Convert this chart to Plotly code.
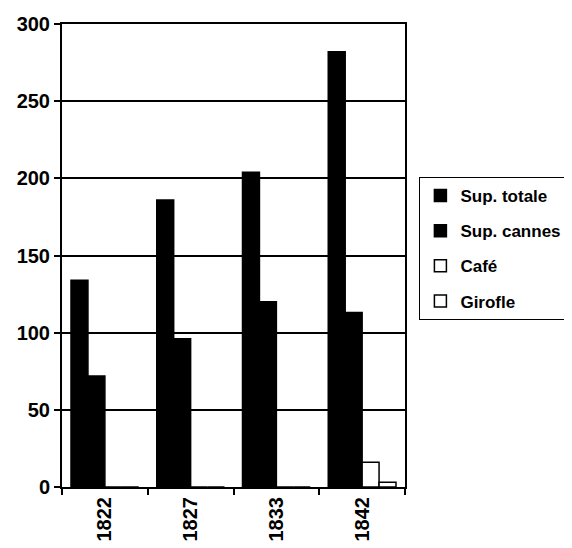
import plotly.graph_objects as go

years = ["1822", "1827", "1833", "1842"]
sup_totale = [134, 186, 204, 282]
sup_cannes = [72, 96, 120, 113]
cafe = [0, 0, 0, 16]
girofle = [0, 0, 0, 3]

series = [
    ("Sup. totale", sup_totale, "#000000"),
    ("Sup. cannes", sup_cannes, "#000000"),
    ("Café", cafe, "#ffffff"),
    ("Girofle", girofle, "#ffffff"),
]

fig = go.Figure()
for name, vals, col in series:
    fig.add_trace(go.Bar(
        x=years, y=vals, name=name, legendgroup=name,
        marker=dict(color=col, line=dict(color="#000000", width=1.5)),
    ))

font = dict(family="Liberation Sans, Arial, sans-serif", size=20, color="#000000", weight="bold")

fig.update_layout(
    width=572, height=548,
    margin=dict(l=54, r=175, t=16, b=69, autoexpand=False),
    paper_bgcolor="#ffffff", plot_bgcolor="#ffffff",
    barmode="group", bargap=0.21, bargroupgap=0,
    showlegend=True,
    legend=dict(
        x=1.042, y=0.515, xanchor="left", yanchor="middle",
        bordercolor="#000000", borderwidth=1, bgcolor="#ffffff",
        font=dict(family="Liberation Sans, Arial, sans-serif", size=17, color="#000000", weight="bold"),
        tracegroupgap=10, itemwidth=30,
    ),
    font=font,
)
fig.update_xaxes(
    type="category", tickangle=-90, tickson="boundaries",
    ticks="outside", ticklen=6, tickcolor="#000000", tickwidth=1.5,
    showline=True, linecolor="#000000", linewidth=2, mirror=True,
    showgrid=False, tickfont=font,
)
fig.update_yaxes(
    range=[0, 300], dtick=50,
    ticks="outside", ticklen=6, tickcolor="#000000", tickwidth=1.5,
    showline=True, linecolor="#000000", linewidth=2, mirror=True,
    showgrid=True, gridcolor="#000000", gridwidth=2, zeroline=False,
    tickfont=font,
)

fig.write_html("out.html")
